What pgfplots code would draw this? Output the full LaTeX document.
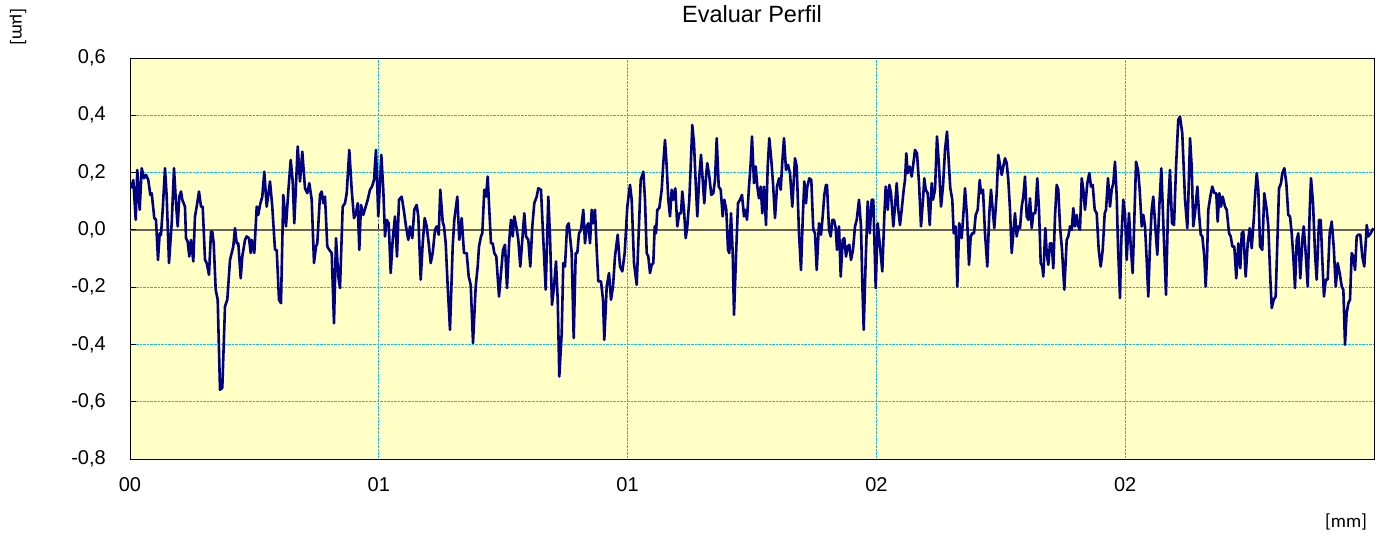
\documentclass[border=0pt]{standalone}
\usepackage{fontspec}
\setmainfont{Liberation Sans}
\newfontfamily\unitfont{Carlito}
\usepackage{pgfplots}
\usepackage{pgfplotstable}
\pgfplotsset{compat=1.18}
\definecolor{bgyellow}{RGB}{255,255,198}
\definecolor{gridcyan}{RGB}{20,190,225}
\definecolor{profile}{RGB}{0,0,128}
\definecolor{zeroline}{RGB}{100,100,90}
\pgfplotstableread{
px val
131.0 0.145
133.3 0.174
135.7 0.035
137.3 0.209
139.7 0.070
141.7 0.215
144.0 0.180
146.0 0.192
148.3 0.174
150.3 0.122
151.7 0.128
154.3 0.041
156.0 0.035
158.0 -0.105
159.7 -0.012
161.0 -0.017
162.7 0.070
165.0 0.215
166.7 0.116
169.0 -0.116
171.7 0.023
174.0 0.215
176.0 0.093
177.7 0.012
179.3 0.116
181.0 0.134
182.3 0.105
185.0 0.081
186.0 -0.029
187.7 -0.041
189.3 -0.093
191.0 -0.035
193.3 -0.110
195.0 0.047
196.7 0.081
199.0 0.134
201.0 0.081
202.7 0.081
205.0 -0.105
206.7 -0.116
209.0 -0.157
211.0 -0.006
212.3 -0.006
213.7 -0.047
215.7 -0.209
217.7 -0.244
220.0 -0.558
222.3 -0.552
225.0 -0.267
227.3 -0.244
230.0 -0.105
231.7 -0.081
233.3 -0.058
235.0 0.006
236.7 -0.047
238.3 -0.047
240.7 -0.169
242.3 -0.093
245.0 -0.035
246.7 -0.023
249.0 -0.029
250.7 -0.081
251.7 -0.035
254.3 -0.081
256.7 0.081
258.3 0.052
260.0 0.087
262.3 0.116
264.3 0.203
266.7 0.081
270.0 0.169
272.3 0.081
275.0 -0.070
276.7 -0.070
279.0 -0.244
281.0 -0.256
283.3 0.122
286.0 0.012
288.3 0.134
290.7 0.244
292.7 0.169
294.3 0.023
297.7 0.291
300.0 0.169
302.3 0.273
305.0 0.145
307.3 0.128
309.3 0.163
311.7 0.105
314.0 -0.116
316.0 -0.058
317.3 -0.047
320.0 0.122
321.7 0.134
323.3 0.093
325.0 0.116
327.3 -0.058
329.3 -0.070
331.7 -0.081
334.0 -0.326
336.0 -0.029
338.3 -0.163
340.0 -0.203
342.7 0.081
345.0 0.093
346.7 0.128
349.3 0.279
351.7 0.140
354.0 0.041
356.0 0.058
357.7 0.093
359.3 -0.070
361.0 0.087
363.3 0.052
365.7 0.081
367.7 0.105
370.0 0.140
372.0 0.151
374.0 0.174
376.0 0.279
378.3 0.047
381.3 0.262
383.3 0.140
385.0 -0.023
386.7 0.035
388.7 0.023
390.7 -0.151
392.7 -0.035
395.0 0.047
397.0 -0.093
399.0 0.105
401.7 0.116
404.0 0.064
406.0 0.012
408.3 -0.035
410.0 0.012
412.3 -0.029
414.3 0.070
416.7 0.087
418.3 0.047
420.7 -0.174
422.7 -0.047
424.7 0.041
426.7 0.012
428.7 -0.047
430.7 -0.116
432.7 -0.081
435.0 0.000
436.7 0.012
438.7 -0.017
440.3 0.140
442.7 0.029
444.0 0.012
445.7 -0.047
447.7 -0.198
450.0 -0.349
452.7 -0.058
454.3 0.035
457.3 0.116
459.3 -0.035
461.7 0.041
464.0 -0.081
466.7 -0.081
468.7 -0.163
470.7 -0.192
473.0 -0.395
475.7 -0.198
477.7 -0.128
479.0 -0.058
481.0 -0.023
482.3 -0.012
484.3 0.140
486.0 0.116
487.7 0.186
489.3 0.070
491.0 -0.047
492.7 -0.047
494.3 -0.081
496.3 -0.093
499.0 -0.233
501.0 -0.151
503.0 -0.070
505.0 -0.052
507.0 -0.203
509.3 -0.035
511.0 0.035
512.7 -0.023
514.3 0.047
516.3 0.012
518.3 -0.035
520.3 -0.128
522.3 -0.035
524.3 0.058
526.0 -0.023
528.3 -0.035
530.3 -0.128
532.3 0.012
534.3 0.093
536.7 0.116
538.3 0.145
541.0 0.140
543.3 -0.035
545.7 -0.209
548.3 0.116
550.0 -0.023
552.0 -0.262
554.0 -0.198
556.0 -0.110
557.7 -0.244
559.3 -0.512
561.7 -0.360
563.3 -0.116
565.0 -0.128
567.0 0.012
568.7 0.023
571.7 -0.081
573.7 -0.378
575.7 -0.081
577.3 -0.081
579.0 -0.012
581.0 0.000
583.3 0.070
585.0 -0.047
586.7 0.012
588.3 0.023
590.0 -0.047
591.7 0.070
593.3 0.023
595.0 0.070
596.7 -0.070
598.3 -0.180
601.0 -0.180
603.0 -0.244
604.3 -0.384
606.7 -0.198
609.0 -0.151
611.0 -0.244
613.0 -0.198
615.0 -0.093
617.7 -0.017
620.0 -0.128
622.3 -0.145
624.7 -0.081
627.3 0.081
630.0 0.157
631.7 0.105
634.0 -0.116
636.7 -0.192
638.3 -0.047
640.7 0.174
643.3 0.203
645.0 0.105
646.7 -0.081
648.3 -0.093
650.0 -0.151
651.7 -0.122
653.3 -0.116
654.7 0.012
656.0 -0.012
657.3 0.070
659.3 0.076
661.7 0.140
663.3 0.233
665.0 0.314
666.7 0.221
668.3 0.105
670.0 0.047
671.7 0.140
673.3 0.105
675.3 0.145
677.3 0.012
679.3 0.058
681.0 0.058
682.3 0.134
684.0 0.070
685.7 -0.029
687.3 0.012
689.3 0.105
690.7 0.221
692.3 0.366
694.0 0.302
695.7 0.163
697.3 0.047
699.3 0.186
701.0 0.262
702.7 0.174
704.3 0.093
706.0 0.186
707.3 0.233
709.3 0.186
711.3 0.122
713.3 0.128
715.0 0.174
716.7 0.320
718.7 0.151
720.7 0.140
722.7 0.047
724.3 0.105
726.3 0.070
728.0 -0.070
729.3 -0.081
731.0 0.058
732.7 -0.081
734.0 -0.297
736.0 -0.093
738.0 0.093
740.0 0.105
742.0 0.122
744.0 0.047
745.3 0.070
747.0 0.035
749.0 0.151
750.7 0.233
752.0 0.326
754.0 0.163
755.7 0.221
757.3 0.151
759.0 0.110
760.7 0.151
762.3 0.058
764.0 0.151
766.0 0.017
767.7 0.221
769.3 0.320
771.3 0.244
773.0 0.163
775.0 0.041
777.0 0.151
779.0 0.180
780.7 0.140
782.3 0.238
784.0 0.320
786.0 0.209
788.0 0.227
790.0 0.198
792.3 0.081
795.0 0.250
796.7 0.221
799.0 -0.012
801.0 -0.140
802.7 0.035
804.3 0.169
806.0 0.093
807.3 0.151
809.3 0.180
811.3 0.174
813.3 0.000
815.0 -0.012
816.7 -0.140
819.0 0.023
821.0 -0.017
822.7 0.047
824.3 0.122
826.0 0.157
827.0 0.157
829.0 0.000
830.7 -0.023
832.3 0.035
834.0 0.035
835.7 0.006
837.0 -0.070
839.0 0.012
840.7 -0.163
842.7 -0.035
844.3 -0.029
846.0 -0.093
847.7 -0.058
849.3 -0.052
851.0 -0.105
853.0 -0.070
855.0 0.012
856.7 0.035
859.0 0.105
861.0 0.012
862.3 -0.186
863.7 -0.349
865.7 -0.105
867.7 0.099
869.7 -0.012
871.7 0.105
873.3 0.105
875.7 -0.203
877.7 0.023
880.0 -0.058
882.3 -0.145
884.3 0.047
885.7 0.151
887.7 0.070
889.3 0.157
891.0 0.128
893.3 0.012
895.0 0.081
896.7 0.163
898.3 0.070
900.0 0.017
901.7 0.070
903.7 0.140
905.0 0.174
906.3 0.267
907.7 0.198
909.7 0.221
911.7 0.186
913.0 0.221
915.0 0.279
917.0 0.267
919.0 0.163
921.0 0.012
923.0 0.105
924.3 0.180
925.7 0.140
927.7 0.128
929.7 0.017
931.7 0.163
933.0 0.105
935.0 0.140
937.0 0.326
939.0 0.221
941.0 0.081
943.0 0.151
945.0 0.279
947.0 0.343
949.0 0.221
950.3 0.145
952.3 0.105
953.7 -0.012
955.7 0.012
957.3 -0.198
959.3 0.023
961.7 -0.029
963.0 0.035
965.0 0.145
967.0 0.047
969.0 -0.122
970.7 -0.023
972.3 -0.012
974.0 -0.012
975.7 0.052
977.7 0.070
979.7 0.174
981.0 0.128
983.0 0.140
985.0 -0.012
987.3 -0.128
989.3 0.058
991.0 0.140
992.7 0.070
994.3 0.006
996.7 0.128
998.3 0.262
1001.7 0.192
1003.3 0.221
1005.0 0.250
1006.7 0.233
1008.3 0.174
1010.0 0.070
1011.7 -0.081
1013.3 -0.012
1015.0 0.058
1016.7 -0.023
1018.3 0.012
1020.0 0.006
1021.7 0.081
1023.3 0.116
1025.0 0.186
1026.7 0.047
1028.3 0.035
1030.0 0.110
1031.7 0.006
1033.3 0.058
1035.3 0.058
1037.3 0.180
1039.0 0.070
1040.7 -0.116
1042.3 -0.128
1043.3 -0.163
1045.3 0.006
1046.7 -0.081
1048.3 -0.122
1050.0 -0.047
1051.7 -0.047
1053.3 -0.134
1055.0 0.047
1056.7 0.157
1058.3 0.140
1060.0 0.012
1062.0 -0.070
1064.3 -0.209
1066.7 -0.035
1068.3 -0.023
1070.0 0.012
1071.7 0.000
1073.3 0.076
1075.0 0.012
1076.7 0.052
1078.3 0.012
1080.0 0.000
1081.7 0.180
1083.3 0.140
1085.0 0.070
1087.3 0.163
1089.3 0.198
1091.0 0.151
1092.7 0.157
1094.7 0.070
1096.7 0.058
1098.7 -0.070
1100.7 -0.128
1102.7 -0.070
1104.7 0.058
1106.0 0.070
1108.0 0.180
1110.0 0.081
1111.7 0.140
1113.3 0.163
1115.0 0.238
1116.7 0.116
1118.0 -0.058
1120.0 -0.238
1121.3 -0.035
1123.3 0.105
1125.0 0.058
1126.7 -0.105
1129.0 0.058
1130.7 -0.058
1132.7 -0.151
1134.3 0.035
1136.0 0.238
1138.0 0.209
1139.7 0.140
1141.7 0.012
1143.3 0.052
1145.0 0.012
1146.7 -0.105
1148.3 -0.233
1150.0 -0.047
1151.7 0.070
1153.3 0.116
1155.3 0.012
1157.3 -0.087
1159.3 0.081
1161.3 0.215
1163.3 0.023
1166.0 -0.227
1168.0 0.070
1170.0 0.209
1172.0 0.023
1174.0 0.017
1176.0 0.221
1178.3 0.384
1180.0 0.395
1182.3 0.337
1185.0 0.105
1187.3 0.006
1188.3 0.105
1190.0 0.320
1191.7 0.221
1193.3 0.012
1195.0 0.058
1197.3 0.151
1199.0 0.058
1200.7 -0.017
1202.3 -0.023
1204.3 -0.093
1205.7 -0.198
1207.0 -0.093
1208.3 0.070
1210.3 0.116
1212.3 0.151
1214.3 0.128
1216.3 0.128
1217.7 0.029
1219.3 0.128
1221.0 0.081
1222.7 0.116
1225.0 0.081
1226.7 0.070
1229.0 -0.012
1230.7 -0.023
1232.3 -0.058
1234.3 -0.058
1236.3 -0.169
1238.3 -0.047
1240.3 -0.134
1241.7 -0.012
1243.3 -0.006
1245.7 -0.163
1247.7 -0.047
1249.7 0.006
1251.7 -0.064
1253.7 0.035
1255.0 0.116
1256.7 0.198
1258.3 0.140
1260.0 -0.058
1262.3 -0.070
1264.3 0.128
1266.7 0.070
1268.3 0.012
1270.3 -0.174
1271.7 -0.273
1273.7 -0.244
1275.7 -0.233
1277.7 0.000
1279.0 0.145
1281.0 0.163
1282.3 0.198
1284.3 0.215
1286.3 0.163
1288.3 0.052
1290.0 0.047
1291.7 -0.012
1293.3 -0.093
1295.0 -0.203
1296.7 -0.035
1298.3 -0.012
1300.3 -0.169
1302.3 -0.035
1303.7 0.012
1305.7 -0.081
1307.7 -0.198
1309.7 0.070
1311.0 0.180
1313.0 0.093
1315.0 -0.081
1316.7 -0.174
1319.0 0.035
1320.7 0.035
1322.3 -0.105
1324.0 -0.233
1325.7 -0.174
1327.7 -0.174
1329.7 -0.012
1331.7 0.029
1333.7 -0.058
1335.7 -0.198
1337.7 -0.116
1339.7 -0.151
1341.7 -0.198
1343.3 -0.209
1345.0 -0.401
1346.7 -0.291
1348.3 -0.256
1350.0 -0.244
1351.7 -0.081
1353.3 -0.093
1355.0 -0.140
1356.7 -0.023
1358.3 -0.017
1360.3 -0.017
1362.3 -0.093
1364.3 -0.128
1366.7 0.017
1368.3 -0.023
1370.7 -0.012
1373.3 0.006
}\profiledata
\begin{document}
\begin{tikzpicture}
\begin{axis}[name=ax,
  scale only axis, width=1244bp, height=401bp,
  xmin=0, xmax=2.5, ymin=-0.8, ymax=0.6,
  axis background/.style={fill=bgyellow},
  axis line style={black, line width=0.8bp},
  xtick={0,0.5,1,1.5,2}, xticklabels={00,01,01,02,02},
  ytick={-0.8,-0.6,-0.4,-0.2,0,0.2,0.4,0.6},
  yticklabels={{-0,8},{-0,6},{-0,4},{-0,2},{0,0},{0,2},{0,4},{0,6}},
  grid=major,
  major grid style={gridcyan, densely dotted, line width=0.8bp},
  tick align=inside, tick pos=left, major tick length=6bp,
  tick style={black, line width=0.8bp},
  xtick style={yshift=229.1bp},
  extra y ticks={0}, extra y tick labels={},
  extra y tick style={grid=major, major grid style={zeroline, solid, line width=1.5bp}},
  ticklabel style={font=\fontsize{20bp}{24bp}\selectfont},
  yticklabel style={anchor=east, inner sep=0pt, xshift=-24bp},
  xticklabel style={anchor=north, inner sep=0pt, yshift=-18bp},
  title={Evaluar Perfil},
  title style={font=\fontsize{23.5bp}{28bp}\selectfont, at={(0.5,1)}, anchor=center, yshift=38bp},
]
\addplot[profile, line width=2.6bp, line join=round, mark=none]
  table[x expr=(\thisrow{px}-130)/497.6, y=val] {\profiledata};
\end{axis}
\node[rotate=-90, font=\unitfont\fontsize{19bp}{22bp}\selectfont] at ([xshift=-112bp, yshift=31bp]ax.north west) {[µm]};
\node[font=\unitfont\fontsize{19bp}{22bp}\selectfont] at ([xshift=-28bp, yshift=-63bp]ax.south east) {[mm]};
\path ([xshift=-130bp, yshift=-77bp]ax.south west) rectangle ([xshift=15bp, yshift=58bp]ax.north east);
\end{tikzpicture}
\end{document}
